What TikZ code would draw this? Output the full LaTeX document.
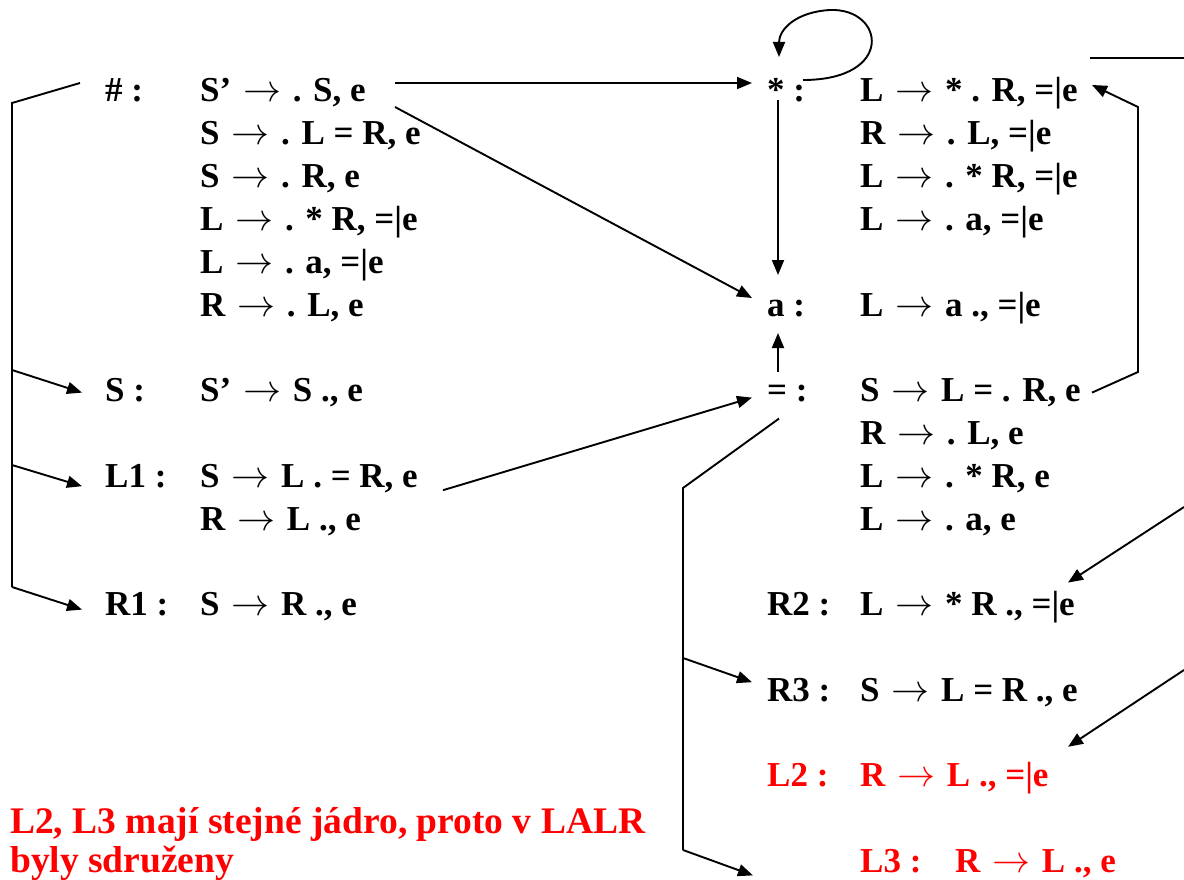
\documentclass[tikz,border=0pt]{standalone}
\usepackage{graphicx}
\usepackage{fontspec}
\setmainfont{Liberation Serif}
\usetikzlibrary{arrows.meta,calc}
\definecolor{myred}{RGB}{255,0,0}
\newcommand{\rarr}{\kern3pt\resizebox{38pt}{!}{$\rightarrow$}\kern3pt}
\tikzset{
  txt/.style={inner sep=0pt, anchor=base west, font=\fontsize{35}{42}\selectfont\bfseries},
  redtxt/.style={txt, text=myred},
  notetxt/.style={inner sep=0pt, anchor=base west, text=myred, font=\fontsize{37.5}{42}\selectfont\bfseries},
  arr/.style={draw=black, line width=1.9pt, -{Triangle[length=15pt,width=12pt]}},
  ln/.style={draw=black, line width=1.9pt}
}
\begin{document}
\begin{tikzpicture}[x=1pt,y=-1pt]
\useasboundingbox (0,0) rectangle (1184,880);
% left column
\node[txt] (hL) at (105,102) {\# :};
\node[txt] (h0) at (200,102) {S’ \rarr{} . S, e};
\node[txt] (h1) at (200,144.8) {S \rarr{} . L = R, e};
\node[txt] (h2) at (200,187.6) {S \rarr{} . R, e};
\node[txt] (h3) at (200,230.4) {L \rarr{} . * R, =|e};
\node[txt] (h4) at (200,273.2) {L \rarr{} . a, =|e};
\node[txt] (h5) at (200,316) {R \rarr{} . L, e};
\node[txt] (SL) at (105,401.6) {S :};
\node[txt] (S0) at (200,401.6) {S’ \rarr{} S ., e};
\node[txt] (L1L) at (105,487.2) {L1 :};
\node[txt] (L1a) at (200,487.2) {S \rarr{} L . = R, e};
\node[txt] (L1b) at (200,530) {R \rarr{} L ., e};
\node[txt] (R1L) at (105,615.6) {R1 :};
\node[txt] (R1a) at (200,615.6) {S \rarr{} R ., e};
% right column
\node[txt] (stL) at (767,102) {* :};
\node[txt] (st0) at (860,102) {L \rarr{} * . R, =|e};
\node[txt] (st1) at (860,144.8) {R \rarr{} . L, =|e};
\node[txt] (st2) at (860,187.6) {L \rarr{} . * R, =|e};
\node[txt] (st3) at (860,230.4) {L \rarr{} . a, =|e};
\node[txt] (aL) at (767,316) {a :};
\node[txt] (a0) at (860,316) {L \rarr{} a ., =|e};
\node[txt] (eqL) at (767,401.6) {= :};
\node[txt] (eq0) at (860,401.6) {S \rarr{} L = . R, e};
\node[txt] (eq1) at (860,444.4) {R \rarr{} . L, e};
\node[txt] (eq2) at (860,487.2) {L \rarr{} . * R, e};
\node[txt] (eq3) at (860,530) {L \rarr{} . a, e};
\node[txt] (R2L) at (767,615.6) {R2 :};
\node[txt] (R2a) at (860,615.6) {L \rarr{} * R ., =|e};
\node[txt] (R3L) at (767,701.2) {R3 :};
\node[txt] (R3a) at (860,701.2) {S \rarr{} L = R ., e};
\node[redtxt] (L2L) at (767,786.8) {L2 :};
\node[redtxt] (L2a) at (860,786.8) {R \rarr{} L ., =|e};
\node[redtxt] (L3L) at (860,872.4) {L3 :};
\node[redtxt] (L3a) at (955,872.4) {R \rarr{} L ., e};
\node[notetxt] (note1) at (10,833) {L2, L3 mají stejné jádro, proto v LALR};
\node[notetxt] (note2) at (10,872) {byly sdruženy};
% connectors
\draw[arr] ($(h0.base west)+(195,-19)$) -- ($(stL.base west)+(-15,-19)$);
\draw[arr] ($(h0.base west)+(195,5)$) -- ($(aL.base west)+(-15,-18)$);
\draw[arr] ($(stL.base west)+(36,-22)$) .. controls (895,80) and (885,8) .. (830,10)
   .. controls (795,12) and (779,30) .. ($(stL.base west)+(12,-45)$);
\draw[arr] ($(stL.base west)+(11,-2)$) -- ($(aL.base west)+(11,-41)$);
\draw[arr] ($(eqL.base west)+(11,-30)$) -- ($(aL.base west)+(11,17)$);
\draw[arr] ($(L1a.base west)+(243,3)$) -- ($(eqL.base west)+(-15,-4)$);
\draw[arr] ($(eq0.base west)+(232,-9)$) -- (1138,372) -- (1138,107) -- ($(st0.base west)+(232,-17)$);
\draw[ln] ($(st0.base west)+(230,-44)$) -- (1184,58);
\draw[arr] (1184,507) -- ($(R2a.base west)+(208,-33)$);
\draw[arr] (1184,670) -- ($(L2a.base west)+(208,-40)$);
\draw[ln] ($(hL.base west)+(-25,-19)$) -- (12,103) -- (12,587);
\draw[arr] (12,587) -- ($(R1L.base west)+(-23,-6)$);
\draw[arr] (12,370) -- ($(SL.base west)+(-23,-9)$);
\draw[arr] (12,465) -- ($(L1L.base west)+(-23,-1)$);
\draw[ln] ($(eqL.base west)+(12,17)$) -- (683,488) -- (683,850);
\draw[arr] (683,850) -- ($(L3L.base west)+(-107,3)$);
\draw[arr] (683,658) -- ($(R3L.base west)+(-15,-19)$);
\end{tikzpicture}
\end{document}
